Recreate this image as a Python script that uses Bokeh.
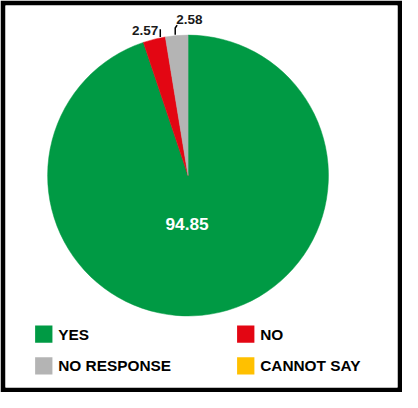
import numpy as np
from bokeh.plotting import figure
from bokeh.models import Range1d, ColumnDataSource
from bokeh.core.properties import value
from bokeh.embed import file_html
from bokeh.resources import INLINE

# ---- data ----
categories = ["YES", "NO", "NO RESPONSE", "CANNOT SAY"]
shares = [94.85, 2.57, 2.58, 0.0]
colors = ["#009A44", "#E30613", "#B4B4B4", "#FFC000"]

# ---- layout: data coordinates follow a 418x408 design grid, scaled to fit ----
W, H = 402, 392
REF_W, REF_H = 418, 408
s = W / REF_W
BORDER = 5
cx, cy, R = 195, 182, 146

def Y(ref_y):
    return REF_H - ref_y

def fs(px):
    return f"{px * s:.1f}px"

p = figure(width=W, height=H, output_backend="svg", toolbar_location=None,
           x_range=Range1d(BORDER / s, (W - BORDER) / s),
           y_range=Range1d(Y((H - BORDER) / s), Y(BORDER / s)),
           min_border_left=BORDER, min_border_right=BORDER,
           min_border_top=BORDER, min_border_bottom=BORDER)
p.border_fill_color = "black"
p.background_fill_color = "white"
p.outline_line_color = None
p.axis.visible = False
p.grid.visible = False

vals = np.array(shares)
frac = vals / vals.sum()
cum = np.concatenate([[0], np.cumsum(frac)])
start = np.pi / 2 - cum[:-1] * 2 * np.pi
end = np.pi / 2 - cum[1:] * 2 * np.pi

idx = [i for i in range(len(vals)) if vals[i] > 0]
src = ColumnDataSource(dict(start=[start[i] for i in idx], end=[end[i] for i in idx],
                            color=[colors[i] for i in idx]))
p.wedge(x=cx, y=Y(cy), radius=R, start_angle="start", end_angle="end",
        direction="clock", fill_color="color", line_color="color", line_width=0.5,
        source=src)

FONT = value("Liberation Sans")

# big label
p.text(x=[cx - 1], y=[Y(cy + 50)], text=[f"{shares[0]:.2f}"], text_color="white",
       text_font=FONT, text_font_style="bold", text_font_size=fs(18),
       text_align="center", text_baseline="middle")

# small labels with leader lines
anchor_frac = {1: 0.78, 2: 0.44}
for i, f in anchor_frac.items():
    a = start[i] + (end[i] - start[i]) * f
    x0 = cx + (R + 1) * np.cos(a)
    y0 = Y(cy) + (R + 1) * np.sin(a)
    y1 = y0 + 8
    if i == 1:
        p.line([x0, x0], [y0, y1], line_color="black", line_width=1.5)
        p.text(x=[x0 - 2], y=[y1 - 1], text=[f"{shares[i]:.2f}"], text_color="#1a1a1a",
               text_font=FONT, text_font_style="bold", text_font_size=fs(14),
               text_align="right", text_baseline="middle")
    else:
        p.line([x0, x0, x0 + 2], [y0, y1 - 1, y1 + 2], line_color="black", line_width=1.5)
        p.text(x=[x0 + 1], y=[y1 + 8], text=[f"{shares[i]:.2f}"], text_color="#1a1a1a",
               text_font=FONT, text_font_style="bold", text_font_size=fs(14),
               text_align="left", text_baseline="middle")

# legend (2 x 2)
lx = [45, 255, 45, 255]
ly = [347, 347, 380, 380]
p.rect(x=lx, y=[Y(v) for v in ly], width=18, height=18, fill_color=colors,
       line_color=None)
p.text(x=[v + 15 for v in lx], y=[Y(v) for v in ly], text=categories,
       text_color="black", text_font=FONT, text_font_style="bold",
       text_font_size=fs(16), text_align="left", text_baseline="middle")

open("out.html", "w").write(file_html(p, INLINE))
